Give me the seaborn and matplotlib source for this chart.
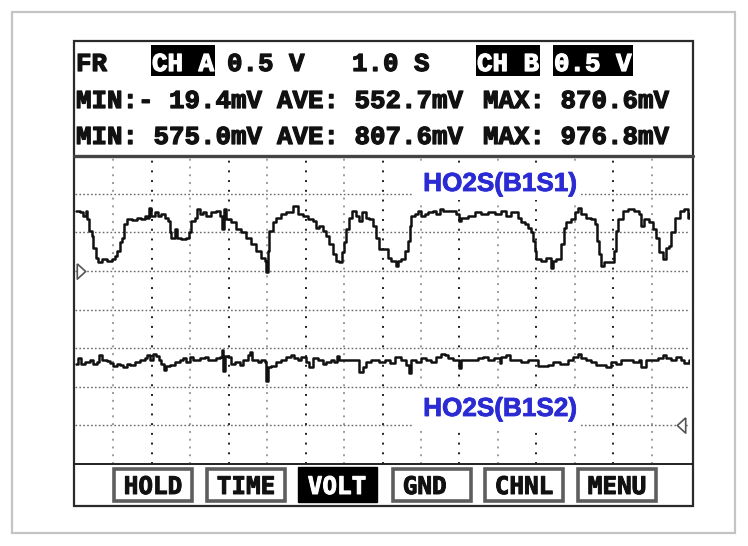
import matplotlib
matplotlib.use("Agg")
import matplotlib.pyplot as plt
import matplotlib.patheffects as pe
import seaborn as sns
from matplotlib.patches import Rectangle
from matplotlib.lines import Line2D

# ---------------- data ----------------
time_a = [0.03,0.13,0.22,0.29,0.30,0.37,0.43,0.48,0.55,0.61,0.69,0.82,0.95,1.04,1.10,
          1.17,1.22,1.27,1.34,1.47,1.60,1.73,1.82,1.88,1.93,1.99,2.08,2.16,2.25,2.34,
          2.42,2.47,2.51,2.60,2.66,2.77,2.90,2.97,3.03,3.12,3.18,3.25,3.33,3.42,3.55,
          3.68,3.78,3.83,3.87,3.94,4.07,4.20,4.33,4.46,4.59,4.72,4.85,4.94,4.98,5.02,
          5.06,5.15,5.24,5.37,5.50,5.67,5.80,5.93,6.06,6.19,6.28,6.36,6.45,6.54,6.62,
          6.71,6.80,6.88,6.95,6.99,7.04,7.13,7.21,7.32,7.40,7.47,7.56,7.66,7.75,7.84,7.92,
          8.15,8.23,8.36,8.41,8.49,8.58,8.67,8.71,8.75,8.84,8.93,9.01,9.10,9.19,9.32,
          9.40,9.49,9.58,9.71,9.84,9.92,9.98,10.05,10.23,10.40,10.57,10.75,10.92,11.09,11.22,
          11.35,11.44,11.52,11.61,11.70,11.78,11.87,11.91,11.96,12.00,12.13,12.26,12.39,12.44,12.52,
          12.65,12.72,12.78,12.91,13.00,13.08,13.17,13.30,13.43,13.52,13.58,13.62,13.69,13.77,13.95,
          14.03,14.08,14.12,14.25,14.38,14.55,14.68,14.73,14.81,14.94,15.03,15.12,15.20,15.29,15.38,
          15.46,15.51,15.60,15.73,15.85,15.94,15.98]
volt_a = [0.78,0.76,0.71,0.78,0.67,0.52,0.45,0.30,0.17,0.11,0.15,0.13,0.15,0.19,0.26,
          0.37,0.43,0.61,0.67,0.66,0.68,0.67,0.71,0.69,0.81,0.71,0.76,0.71,0.74,0.69,
          0.65,0.50,0.42,0.54,0.42,0.41,0.42,0.50,0.65,0.69,0.80,0.74,0.76,0.71,0.76,
          0.78,0.71,0.54,0.80,0.67,0.63,0.54,0.50,0.43,0.35,0.26,0.17,0.13,-0.02,0.26,
          0.52,0.63,0.69,0.74,0.76,0.84,0.74,0.71,0.67,0.65,0.56,0.58,0.52,0.45,0.35,
          0.22,0.13,0.11,0.24,0.37,0.54,0.69,0.78,0.71,0.65,0.76,0.69,0.67,0.58,0.43,0.28,
          0.17,0.13,0.06,0.13,0.15,0.26,0.39,0.58,0.71,0.74,0.78,0.71,0.74,0.76,0.78,
          0.74,0.80,0.77,0.78,0.78,0.74,0.65,0.69,0.71,0.76,0.74,0.76,0.74,0.78,0.71,
          0.76,0.76,0.69,0.63,0.61,0.56,0.50,0.39,0.26,0.15,0.13,0.17,0.04,0.13,0.15,
          0.35,0.56,0.63,0.67,0.76,0.82,0.74,0.69,0.67,0.61,0.39,0.22,0.06,0.11,0.11,
          0.26,0.52,0.67,0.78,0.80,0.78,0.74,0.58,0.67,0.63,0.54,0.43,0.24,0.15,0.30,
          0.32,0.50,0.69,0.78,0.80,0.69,0.74]

time_b = [0.03,0.09,0.15,0.26,0.39,0.48,0.58,0.63,0.69,0.82,0.91,1.00,1.08,1.17,1.26,
          1.34,1.43,1.56,1.69,1.82,1.88,1.95,2.03,2.12,2.19,2.25,2.31,2.38,2.47,2.60,
          2.73,2.81,2.90,2.99,3.07,3.16,3.25,3.38,3.46,3.55,3.68,3.78,3.83,3.85,3.90,
          3.98,4.07,4.16,4.29,4.37,4.46,4.50,4.56,4.61,4.68,4.76,4.85,4.94,4.98,5.02,
          5.11,5.24,5.37,5.50,5.63,5.71,5.80,5.89,6.02,6.10,6.19,6.32,6.45,6.54,6.67,
          6.75,6.81,6.88,7.01,7.14,7.27,7.36,7.40,7.49,7.58,7.71,7.84,7.92,
          8.06,8.19,8.32,8.49,8.62,8.68,8.75,8.88,9.01,9.14,9.27,9.40,9.53,9.62,9.71,
          9.84,9.92,9.98,10.05,10.18,10.31,10.48,10.61,10.74,10.91,11.05,11.09,11.22,11.31,11.39,
          11.48,11.61,11.78,11.96,12.04,12.17,12.30,12.43,12.61,12.82,12.95,13.08,13.17,13.30,13.43,
          13.56,13.69,13.82,13.95,14.08,14.21,14.38,14.51,14.68,14.73,14.86,14.99,15.07,15.16,15.29,
          15.38,15.51,15.64,15.77,15.85,15.98]
volt_b = [0.79,0.87,0.79,0.82,0.84,0.80,0.82,0.91,0.84,0.83,0.81,0.77,0.80,0.78,0.75,
          0.79,0.78,0.82,0.84,0.87,0.91,0.84,0.92,0.90,0.85,0.79,0.72,0.77,0.78,0.82,
          0.84,0.87,0.82,0.89,0.84,0.85,0.87,0.89,0.84,0.84,0.87,0.89,0.98,0.71,0.90,
          0.89,0.79,0.82,0.78,0.85,0.84,0.91,0.95,0.85,0.84,0.82,0.84,0.82,0.575,0.76,
          0.77,0.82,0.85,0.89,0.91,0.87,0.84,0.89,0.82,0.76,0.87,0.84,0.79,0.82,0.84,
          0.82,0.90,0.84,0.84,0.84,0.85,0.84,0.69,0.76,0.82,0.84,0.84,0.82,
          0.84,0.81,0.88,0.84,0.78,0.68,0.84,0.82,0.87,0.84,0.82,0.89,0.92,0.91,0.87,
          0.84,0.84,0.74,0.84,0.85,0.84,0.87,0.89,0.84,0.87,0.81,0.89,0.91,0.85,0.84,
          0.84,0.82,0.84,0.84,0.77,0.77,0.78,0.82,0.80,0.84,0.89,0.92,0.87,0.84,0.82,
          0.78,0.78,0.75,0.82,0.80,0.84,0.84,0.82,0.84,0.76,0.84,0.84,0.84,0.87,0.91,
          0.87,0.84,0.89,0.84,0.81,0.84]

header_items = ["FR", "CH A", "0.5 V", "1.0 S", "CH B", "0.5 V"]
header_inverted = [False, True, False, False, True, True]
stats_a = ["MIN:- 19.4mV", "AVE: 552.7mV", "MAX: 870.6mV"]
stats_b = ["MIN: 575.0mV", "AVE: 807.6mV", "MAX: 976.8mV"]
buttons = ["HOLD", "TIME", "VOLT", "GND ", "CHNL", "MENU"]
button_active = [False, False, True, False, False, False]
label_a = "HO2S(B1S1)"
label_b = "HO2S(B1S2)"

# ---------------- layout ----------------
W, H = 748, 546
sns.set_style("white")
plt.rcParams['font.family'] = ['DejaVu Sans']

fig = plt.figure(figsize=(W / 100, H / 100), dpi=100)
fig.patch.set_facecolor("white")

def fx(x):
    return x / W

def fy(y):
    return 1 - y / H

def frect(x0, y0, x1, y1, **kw):
    r = Rectangle((fx(x0), fy(y1)), fx(x1) - fx(x0), fy(y0) - fy(y1),
                  transform=fig.transFigure, **kw)
    fig.add_artist(r)
    return r

def fline(x0, y0, x1, y1, **kw):
    fig.add_artist(Line2D([fx(x0), fx(x1)], [fy(y0), fy(y1)],
                          transform=fig.transFigure, **kw))

def heavy(color, w=0.9):
    return [pe.withStroke(linewidth=w, foreground=color)]

# outer light border
frect(12, 12, 735, 533, facecolor="none", edgecolor="#c4c4c4", lw=1.6, zorder=1)

# plot axes (channel A and channel B share the time axis)
PL, PR, PT, PB = 75, 690, 155, 464
rect = [fx(PL), fy(PB), fx(PR) - fx(PL), fy(PT) - fy(PB)]
ax = fig.add_axes(rect)
ax_b = fig.add_axes(rect, sharex=ax)
ax_b.patch.set_visible(False)
for a in (ax, ax_b):
    a.set_xticks([]); a.set_yticks([])
    for s in a.spines.values():
        s.set_visible(False)
ax.set_xlim(0, 16)
ax.set_ylim(-2.5, 1.5)      # 0.5 V/div, CH A ground 3 div from top
ax_b.set_ylim(-0.5, 3.5)    # 0.5 V/div, CH B ground 1 div from bottom

# grid
for t in range(1, 16):
    if t % 2 == 0:
        ax.axvline(t, color="#1e1e1e", lw=1.4, ls=(0, (1, 4)), zorder=0)
    else:
        ax.axvline(t, color="#9c9c9c", lw=1.4, ls=(0, (1, 3)), zorder=0)
for v in [-2.0, -1.5, -1.0, -0.5, 0.0, 0.5, 1.0]:
    ax.axhline(v, color="#6a6a6a", lw=1.0, ls=(0, (1.2, 1.6)), zorder=0)

# traces
sns.lineplot(x=time_a, y=volt_a, ax=ax, color="#111111", linewidth=1.8,
             drawstyle="steps-post", estimator=None, sort=False, zorder=3)
sns.lineplot(x=time_b, y=volt_b, ax=ax_b, color="#111111", linewidth=1.8,
             drawstyle="steps-post", estimator=None, sort=False, zorder=3)

# ground markers
tri_r = [(-0.55, 1), (0.55, 0), (-0.55, -1), (-0.55, 1)]
tri_l = [(0.55, 1), (-0.55, 0), (0.55, -1), (0.55, 1)]
ax.plot([0.16], [0.0], marker=tri_r, ms=11, mfc="white", mec="#555555",
        mew=1.2, ls="none", clip_on=False, zorder=4)
ax_b.plot([15.77], [0.0], marker=tri_l, ms=11, mfc="white", mec="#555555",
          mew=1.2, ls="none", clip_on=False, zorder=4)

# channel labels with white background
frect(412, 166, 580, 200, facecolor="white", edgecolor="none", zorder=2)
frect(412, 392, 580, 428, facecolor="white", edgecolor="none", zorder=2)
lab_kw = dict(family="Liberation Sans", weight="bold", fontsize=18.8,
              color="#2b2bd4", ha="center", va="center", zorder=3,
              path_effects=heavy("#2b2bd4", 0.6))
fig.text(fx(500), fy(184), label_a, **lab_kw)
fig.text(fx(500), fy(409), label_b, **lab_kw)

# screen frame and separators
frect(74, 41, 693, 506, facecolor="none", edgecolor="#2a2a2a", lw=1.6, zorder=6)
fline(74, 155.5, 693, 155.5, color="#444444", lw=2.4, zorder=6)
fline(74, 464, 693, 464, color="#222222", lw=1.4, zorder=6)

# header
CW = 15.5
hdr_kw = dict(family="Liberation Mono", weight="bold", fontsize=18.6,
              ha="left", va="baseline", zorder=7)
hdr_x = [76, 152, 227, 352, 477, 554]
for txt, x, inv in zip(header_items, hdr_x, header_inverted):
    if inv:
        frect(x - 1, 45, x + len(txt) * CW + 1, 76, facecolor="black",
              edgecolor="none", zorder=6)
        fig.text(fx(x), fy(71), txt, color="white",
                 path_effects=heavy("white"), **hdr_kw)
    else:
        fig.text(fx(x), fy(71), txt, color="#111111",
                 path_effects=heavy("#111111"), **hdr_kw)

stat_x = [76, 277, 483]
for txt, x in zip(stats_a, stat_x):
    fig.text(fx(x), fy(108), txt, color="#111111",
             path_effects=heavy("#111111"), **hdr_kw)
for txt, x in zip(stats_b, stat_x):
    fig.text(fx(x), fy(144), txt, color="#111111",
             path_effects=heavy("#111111"), **hdr_kw)

# buttons
btn_x = [114, 207, 298, 393, 485, 578]
BW = 78
btn_kw = dict(family="DejaVu Sans Mono", weight="bold", fontsize=17.5,
              ha="center", va="baseline", zorder=8)
for txt, x, act in zip(buttons, btn_x, button_active):
    if act:
        frect(x, 467, x + BW + 1, 502, facecolor="black", edgecolor="black",
              lw=1, zorder=7)
        fig.text(fx(x + BW / 2), fy(494), txt, color="white",
                 path_effects=heavy("white", 0.7), **btn_kw)
    else:
        frect(x, 468.5, x + BW, 500.5, facecolor="white", edgecolor="#5e5e5e",
              lw=2.6, zorder=7)
        fig.text(fx(x + BW / 2), fy(494), txt, color="#111111",
                 path_effects=heavy("#111111", 0.7), **btn_kw)

fig.savefig("out.png", dpi=100, facecolor="white")
